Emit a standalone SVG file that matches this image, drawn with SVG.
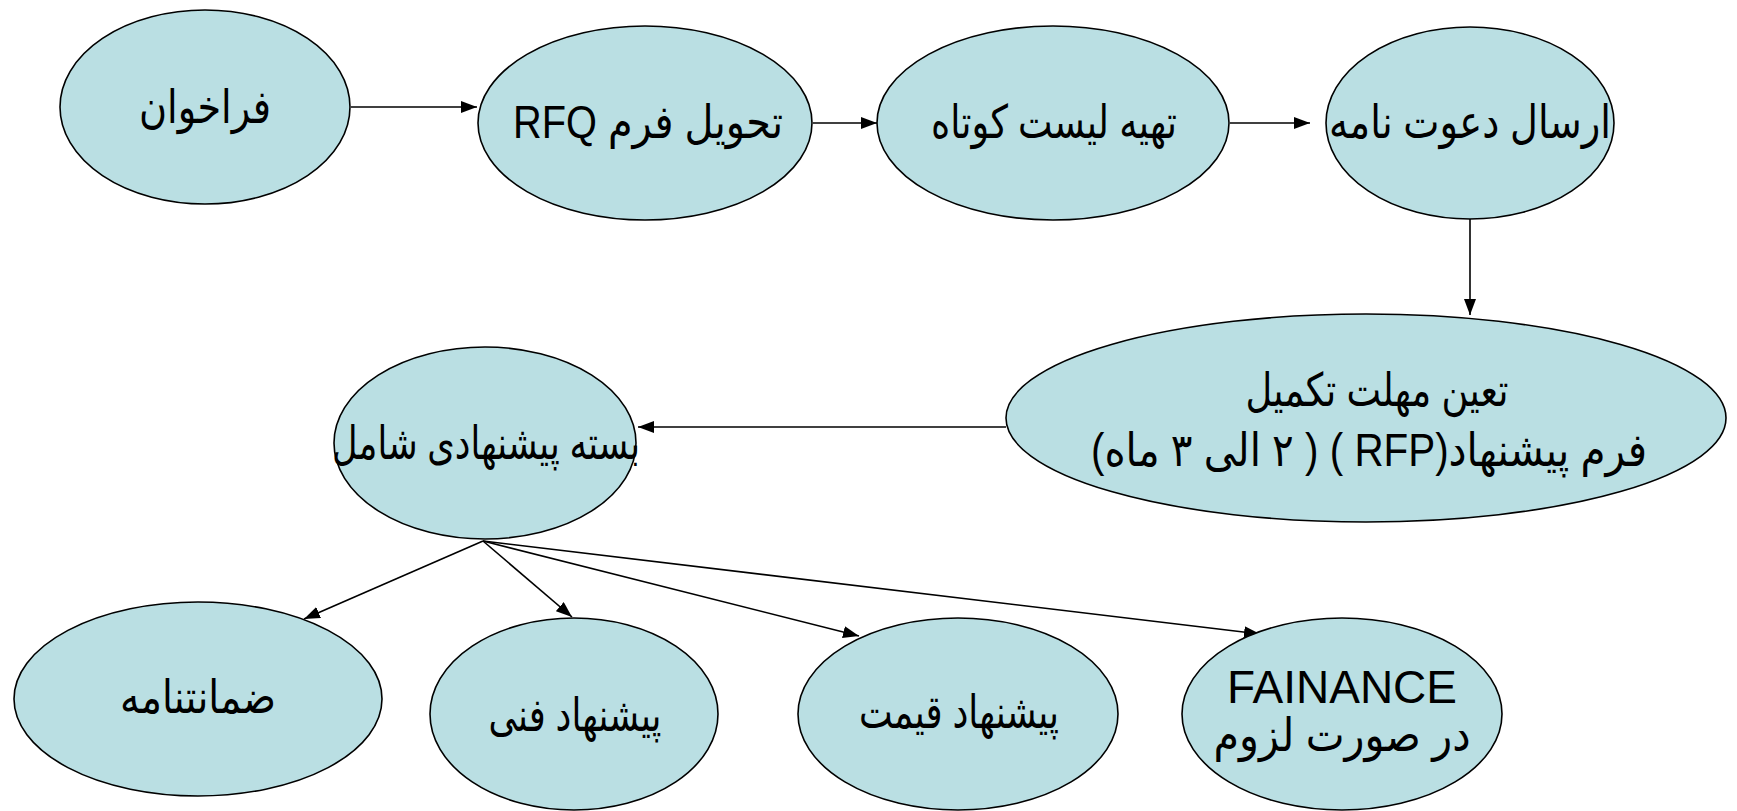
<svg xmlns="http://www.w3.org/2000/svg" width="1737" height="811" viewBox="0 0 1737 811">
<style>
.n ellipse{fill:#BADFE3;stroke:#000;stroke-width:1.6}
.t{font-family:"Liberation Sans","DejaVu Sans",sans-serif;font-size:46px;fill:#000;text-anchor:middle;direction:rtl}
.c line{stroke:#000;stroke-width:1.6;marker-end:url(#ah)}
</style>
<defs>
<marker id="ah" markerUnits="userSpaceOnUse" markerWidth="16" markerHeight="12" refX="16" refY="6" orient="auto">
<path d="M0,0 L16,6 L0,12 z" fill="#000"/>
</marker>
</defs>
<rect width="1737" height="811" fill="#fff"/>
<g id="connectors" class="c">
<line x1="351" y1="107" x2="477" y2="107"/>
<line x1="813" y1="123" x2="877" y2="123"/>
<line x1="1230" y1="123" x2="1310" y2="123"/>
<line x1="1470" y1="219" x2="1470" y2="315"/>
<line x1="1006" y1="427" x2="638" y2="427"/>
<line x1="483" y1="541" x2="304" y2="619"/>
<line x1="483" y1="541" x2="572" y2="617"/>
<line x1="483" y1="541" x2="859" y2="636"/>
<line x1="483" y1="541" x2="1260" y2="634"/>
</g>
<g id="n1" class="n"><ellipse cx="205" cy="107" rx="145" ry="97"/><text class="t" x="205" y="123" textLength="132" lengthAdjust="spacingAndGlyphs">فراخوان</text></g>
<g id="n2" class="n"><ellipse cx="645" cy="123" rx="167" ry="97"/><text class="t" x="648" y="138" textLength="270" lengthAdjust="spacingAndGlyphs">تحویل فرم RFQ</text></g>
<g id="n3" class="n"><ellipse cx="1053" cy="123" rx="176" ry="97"/><text class="t" x="1054" y="138" textLength="246" lengthAdjust="spacingAndGlyphs">تهیه لیست کوتاه</text></g>
<g id="n4" class="n"><ellipse cx="1470" cy="123" rx="144" ry="96"/><text class="t" x="1470" y="138" textLength="282" lengthAdjust="spacingAndGlyphs">ارسال دعوت نامه</text></g>
<g id="n5" class="n"><ellipse cx="1366" cy="418" rx="360" ry="104"/><text class="t" x="1377" y="406" textLength="263" lengthAdjust="spacingAndGlyphs">تعین مهلت تکمیل</text><text class="t" x="1369" y="466" textLength="556" lengthAdjust="spacingAndGlyphs">فرم پیشنهاد(RFP ) ( ۲ الی ۳ ماه)</text></g>
<g id="n6" class="n"><ellipse cx="485" cy="443" rx="151" ry="96"/><text class="t" x="486" y="459" textLength="308" lengthAdjust="spacingAndGlyphs">بسته پیشنهادی شامل</text></g>
<g id="n7" class="n"><ellipse cx="198" cy="699" rx="184" ry="97"/><text class="t" x="198" y="713" textLength="156" lengthAdjust="spacingAndGlyphs">ضمانتنامه</text></g>
<g id="n8" class="n"><ellipse cx="574" cy="714" rx="144" ry="96"/><text class="t" x="575" y="731" textLength="173" lengthAdjust="spacingAndGlyphs">پیشنهاد فنی</text></g>
<g id="n9" class="n"><ellipse cx="958" cy="714" rx="160" ry="96"/><text class="t" x="959" y="728" textLength="200" lengthAdjust="spacingAndGlyphs">پیشنهاد قیمت</text></g>
<g id="n10" class="n"><ellipse cx="1342" cy="714" rx="160" ry="96"/><text class="t" x="1342" y="703">FAINANCE</text><text class="t" x="1342" y="751" textLength="257" lengthAdjust="spacingAndGlyphs">در صورت لزوم</text></g>
</svg>
